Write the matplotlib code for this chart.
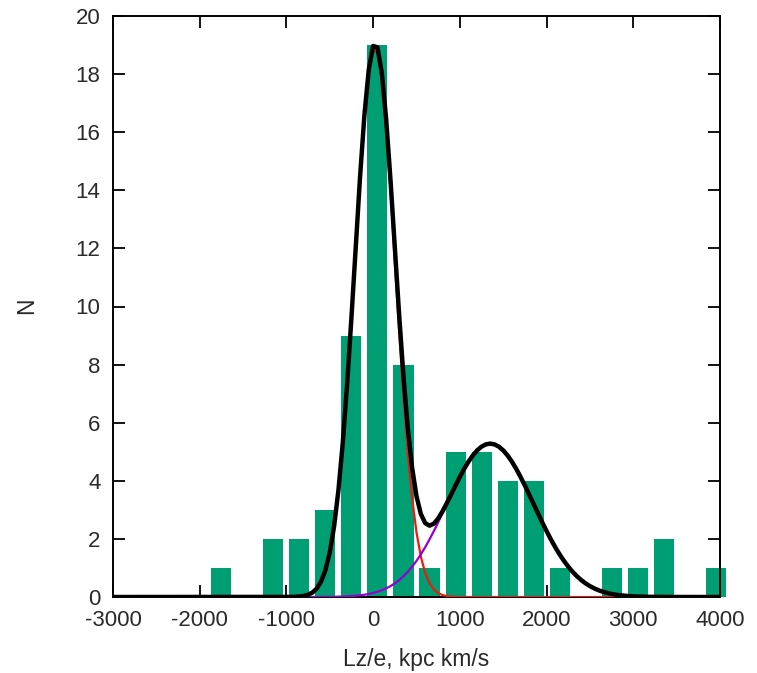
import numpy as np
import matplotlib
matplotlib.use("Agg")
import matplotlib.pyplot as plt

plt.rcParams['font.family'] = ['Liberation Sans', 'DejaVu Sans']
plt.rcParams['axes.unicode_minus'] = False

# Histogram of Lz/e (bin centres, counts)
bin_centers = [-1750, -1150, -850, -550, -250, 50, 350, 650, 950, 1250,
               1550, 1850, 2150, 2750, 3050, 3350, 3950]
counts = [1, 2, 2, 3, 9, 19, 8, 1, 5, 5, 4, 4, 1, 1, 1, 2, 1]
bin_width = 300

# Two-Gaussian fit parameters: amplitude, mean, sigma
g1_amp, g1_mu, g1_sigma = 18.9, 20.0, 232.0
g2_amp, g2_mu, g2_sigma = 5.28, 1350.0, 500.0

x_ticks = [-3000, -2000, -1000, 0, 1000, 2000, 3000, 4000]
y_ticks = [0, 2, 4, 6, 8, 10, 12, 14, 16, 18, 20]

W, H = 757, 673
fig = plt.figure(figsize=(W / 100, H / 100), dpi=100)
ax = fig.add_axes([113 / W, 1 - 597 / H, (720 - 113) / W, (597 - 16) / H])

ax.bar(bin_centers, counts, width=0.77 * bin_width, color='#009E73',
       zorder=1, clip_on=False, linewidth=0)


def gauss(x, a, mu, s):
    return a * np.exp(-(x - mu) ** 2 / (2 * s ** 2))


# functions sampled on a coarse grid, drawn as polylines
xs = np.linspace(-3000, 4000, 141)
y1 = gauss(xs, g1_amp, g1_mu, g1_sigma)
y2 = gauss(xs, g2_amp, g2_mu, g2_sigma)
ax.plot(xs, y1, color='#E51E10', lw=1.6, zorder=3)
ax.plot(xs, y2, color='#9400D3', lw=1.6, zorder=3)
ax.plot(xs, y1 + y2, color='black', lw=3.2, zorder=4)

ax.set_xlim(-3000, 4000)
ax.set_ylim(0, 20)
ax.set_xticks(x_ticks)
ax.set_yticks(y_ticks)
ax.set_axisbelow(True)
ax.tick_params(direction='in', length=8.5, width=1.3, labelsize=16,
               top=True, right=True, color='black')
ax.tick_params(axis='x', pad=9.5)
ax.tick_params(axis='y', pad=9)
for sp in ax.spines.values():
    sp.set_linewidth(1.4)
    sp.set_zorder(2.5)

fig.text(27 / W, 1 - 306 / H, 'N', rotation=90, ha='center', va='center',
         fontsize=16.5, color='#2a2a2a')
fig.text(416.5 / W, 1 - 666 / H, 'Lz/e, kpc km/s', ha='center',
         va='baseline', fontsize=16.5, color='#2a2a2a')
for lab in ax.get_xticklabels() + ax.get_yticklabels():
    lab.set_color('#2a2a2a')

fig.savefig('out.png', dpi=100)
